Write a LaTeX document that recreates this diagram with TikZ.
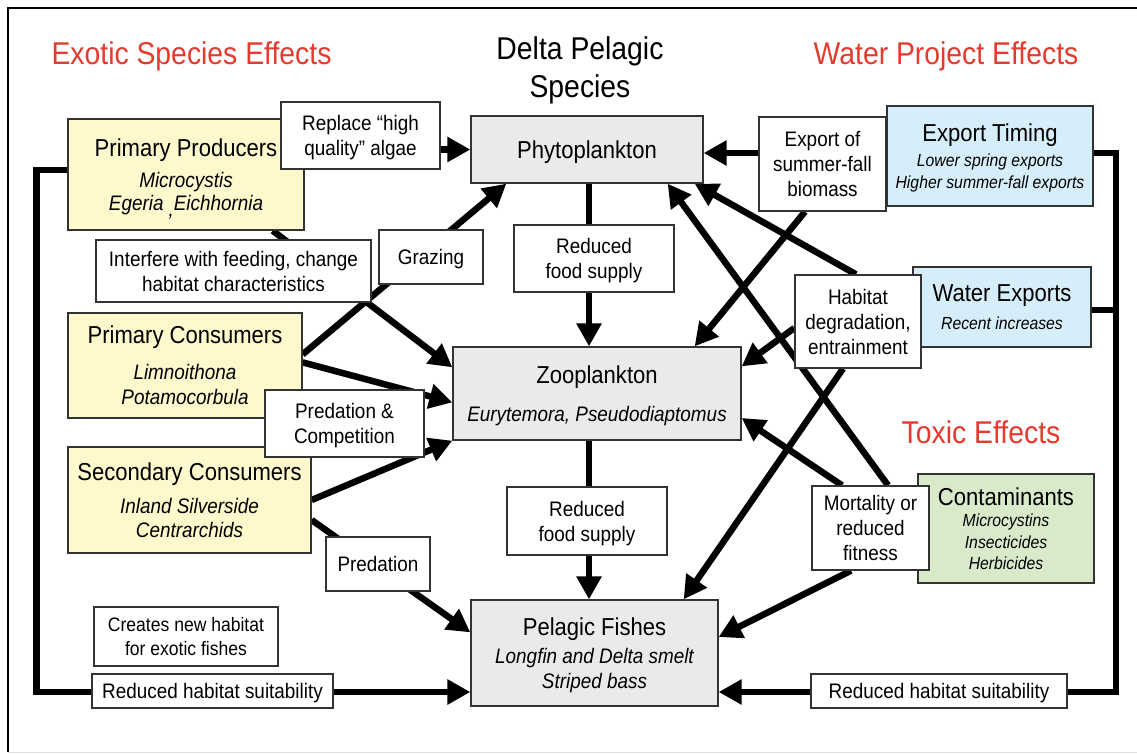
\documentclass[tikz,border=0pt]{standalone}
\usepackage{fontspec}
\setmainfont[FakeStretch=0.9]{Liberation Sans}
\usetikzlibrary{arrows.meta,backgrounds}

\definecolor{fxred}{HTML}{E53A2E}
\definecolor{yelfill}{HTML}{FDF9CC}
\definecolor{bluefill}{HTML}{D6EEF9}
\definecolor{greenfill}{HTML}{D9EACB}
\definecolor{grayfill}{HTML}{E9EAEC}
\definecolor{boxline}{HTML}{333333}

\newcommand{\fTitle}{\fontsize{31.5}{38}\selectfont}
\newcommand{\fHead}{\fontsize{24.5}{29}\selectfont\upshape}
\newcommand{\fLabel}{\fontsize{21}{25}\selectfont}
\newcommand{\fSub}{\fontsize{21}{23}\selectfont\itshape}
\newcommand{\fSmall}{\fontsize{17.5}{21}\selectfont\itshape}

\begin{document}
\begin{tikzpicture}[x=1pt,y=-1pt,
  box/.style={draw=boxline, line width=1.3pt, inner sep=0pt, align=center, font=\fLabel, text depth=0pt},
  labelbox/.style={box, fill=white},
  yelbox/.style={box, fill=yelfill, font=\fSub},
  graybox/.style={box, fill=grayfill, font=\fSub},
  bluebox/.style={box, fill=bluefill, font=\fSmall},
  greenbox/.style={box, fill=greenfill, font=\fSmall},
  heading/.style={font=\fTitle, inner sep=0pt, align=center},
  conn/.style={line width=6.5pt, draw=black},
  arr/.style={conn, -{Triangle[length=23pt,width=24pt]}},
  frameline/.style={line width=2.2pt, draw=black}]

\useasboundingbox (0,0) rectangle (1137,753);

% headings
\node[heading, text=fxred] (hexo) at (191.5,56) {Exotic Species Effects};
\node[heading] (hdelta) at (580,70) {Delta Pelagic\\Species};
\node[heading, text=fxred] (hwater) at (946,56) {Water Project Effects};
\node[heading, text=fxred] (htox) at (981,432) {Toxic Effects};

% exotic species
\node[yelbox, minimum width=236pt, minimum height=111pt] (pp) at (186,174.5)
  {{\fHead Primary Producers}\\[7.5pt]Microcystis\\Egeria\hspace{5pt}\raisebox{-6pt}{,}Eichhornia};
\node[yelbox, minimum width=234pt, minimum height=105pt] (pc) at (185,365.5)
  {{\fHead Primary Consumers}\\[13pt]Limnoithona\\[2pt]Potamocorbula};
\node[yelbox, minimum width=243pt, minimum height=106pt] (sc) at (189.5,500)
  {{\fHead Secondary Consumers}\\[10pt]Inland Silverside\\[1pt]Centrarchids};

% pelagic food web
\node[graybox, minimum width=232pt, minimum height=67pt] (phy) at (587,149.5) {\fHead Phytoplankton};
\node[graybox, minimum width=288pt, minimum height=93pt] (zoo) at (597,393.5)
  {{\fHead Zooplankton}\\[15pt]Eurytemora, Pseudodiaptomus};
\node[graybox, minimum width=247pt, minimum height=106pt] (pel) at (594.5,653)
  {{\fHead Pelagic Fishes}\\[5pt]Longfin and Delta smelt\\[2pt]Striped bass};

% water project and toxic drivers
\node[bluebox, minimum width=206pt, minimum height=100pt] (et) at (990,156)
  {{\fHead Export Timing}\\[4.5pt]Lower spring exports\\[1pt]Higher summer-fall exports};
\node[bluebox, minimum width=178pt, minimum height=80pt] (we) at (1002,307)
  {{\fHead Water Exports}\\[6.5pt]Recent increases};
\node[greenbox, minimum width=176pt, minimum height=109pt] (cont) at (1006,528.5)
  {{\fHead Contaminants}\\[-0.5pt]Microcystins\\[1pt]Insecticides\\[0pt]Herbicides};

% effect labels
\node[labelbox, minimum width=159pt, minimum height=67pt] (rep) at (360.5,135.5) {Replace “high\\quality” algae};
\node[labelbox, minimum width=275pt, minimum height=62pt] (intf) at (233.5,271) {Interfere with feeding, change\\habitat characteristics};
\node[labelbox, minimum width=104pt, minimum height=54pt] (graz) at (431,257) {Grazing};
\node[labelbox, minimum width=160pt, minimum height=67pt] (rfs1) at (594,258.5) {Reduced\\food supply};
\node[labelbox, minimum width=159pt, minimum height=67pt] (pcomp) at (344.5,423.5) {Predation \&\\Competition};
\node[labelbox, minimum width=160pt, minimum height=68pt] (rfs2) at (587,521) {Reduced\\food supply};
\node[labelbox, minimum width=104pt, minimum height=54pt] (pred) at (378,564) {Predation};
\node[labelbox, minimum width=184pt, minimum height=59pt, font=\fontsize{19.5}{24}\selectfont] (cnh) at (186,636.5) {Creates new habitat\\for exotic fishes};
\node[labelbox, minimum width=241pt, minimum height=34pt] (rhl) at (212.5,691) {Reduced habitat suitability};
\node[labelbox, minimum width=256pt, minimum height=34pt] (rhr) at (939,691) {Reduced habitat suitability};
\node[labelbox, minimum width=127pt, minimum height=94pt] (exb) at (822.5,164) {Export of\\summer-fall\\biomass};
\node[labelbox, minimum width=126pt, minimum height=93pt] (hab) at (858,321.5) {Habitat\\degradation,\\entrainment};
\node[labelbox, minimum width=117pt, minimum height=84pt] (mort) at (870.5,528) {Mortality or\\reduced\\fitness};

\begin{pgfonlayer}{background}
  \fill[white] (0,0) rectangle (1137,753);
  % frame
  \draw[frameline] (1137,8) -- (8,8) -- (8,752);
  \draw[line width=1pt, draw=black!12] (8,752) -- (1137,752);

  % exotic species effects
  \draw[arr] (pp.east |- phy.west) -- (phy.west);
  \draw[arr] ([xshift=-32pt]pp.south east) -- ([yshift=-21pt]zoo.north west);
  \draw[arr] ([yshift=-42pt]pc.north east) -- ([xshift=36pt]phy.south west);
  \draw[arr] ([yshift=-50pt]pc.north east) -- ([yshift=-56pt]zoo.north west);
  \draw[arr] (sc.east) -- (zoo.south west);
  \draw[arr] ([yshift=-20pt]sc.east) -- ([yshift=-33pt]pel.north west);
  \draw[arr] ([yshift=4.5pt]pp.west) -- ++(-31,0) |- ([yshift=-39pt]pel.west);

  % food web
  \draw[arr] ([xshift=2pt]phy.south) -- ([xshift=2pt]phy.south |- zoo.north);
  \draw[arr] ([xshift=-8pt]zoo.south) -- ([xshift=-8pt]zoo.south |- pel.north);

  % water project effects
  \coordinate (phyR) at ([yshift=-3.5pt]phy.east);
  \draw[arr] (et.west |- phyR) -- (phyR);
  \draw[arr] ([xshift=-17.5pt]exb.south) -- ([xshift=-47pt]zoo.north east);
  \draw[arr] ([xshift=-2pt]hab.north) -- ([xshift=-9pt]phy.south east);
  \draw[arr] ([yshift=-6.5pt]hab.west) -- ([yshift=-20pt]zoo.north east);
  \draw[arr] ([xshift=-15pt]hab.south) -- ([xshift=-35pt]pel.north east);
  \coordinate (rail) at (1116,0);
  \coordinate (pelR) at ([yshift=-39pt]pel.east);
  \draw[arr] ([yshift=3pt]et.east) -| (rail |- pelR) -- (pelR);
  \draw[conn] ([yshift=-3pt]we.east) coordinate (weR) -- (rail |- weR);

  % toxic effects
  \draw[arr] ([xshift=17.5pt]mort.north) -- ([xshift=-36pt]phy.south east);
  \draw[arr] ([xshift=-28.5pt]mort.north) -- ([yshift=-24.5pt]zoo.east);
  \draw[arr] ([xshift=-19.5pt]mort.south) -- ([yshift=16pt]pel.east);
\end{pgfonlayer}
\end{tikzpicture}
\end{document}
